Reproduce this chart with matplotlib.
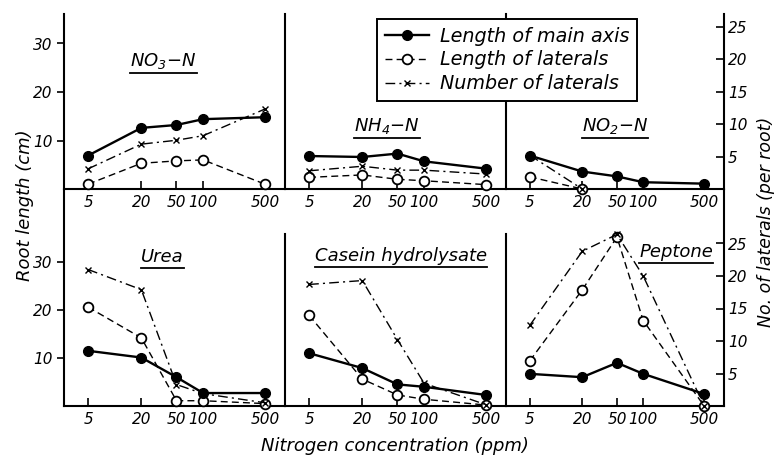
import matplotlib.pyplot as plt
import numpy as np
from matplotlib.ticker import NullLocator, FixedLocator
from matplotlib.lines import Line2D

plt.rcParams['font.family'] = ['DejaVu Sans']
plt.rcParams['font.style'] = 'italic'
plt.rcParams['mathtext.default'] = 'it'

# nitrogen concentration (ppm)
conc = [5, 20, 50, 100, 500]
conc_labels = ['5', '20', '50', '100', '500']

# length of main axis (cm), length of laterals (cm), number of laterals (per root)
no3_main = [6.9, 12.6, 13.2, 14.4, 14.8]
no3_len = [1.0, 5.3, 5.8, 6.0, 1.0]
no3_num = [3.1, 6.9, 7.5, 8.2, 12.3]

nh4_main = [6.8, 6.6, 7.3, 5.7, 4.2]
nh4_len = [2.4, 2.9, 2.0, 1.7, 0.9]
nh4_num = [2.8, 3.5, 2.9, 2.9, 2.3]

no2_main = [6.9, 3.6, 2.6, 1.4, 1.1]
no2_len = [2.5, 0.0, np.nan, np.nan, np.nan]
no2_num = [5.2, 0.0, np.nan, np.nan, np.nan]

urea_main = [11.5, 10.1, 6.0, 2.7, 2.7]
urea_len = [20.6, 14.2, 1.1, 1.1, 0.5]
urea_num = [21.0, 17.9, 3.3, 1.9, 0.5]

casein_main = [11.0, 7.9, 4.5, 4.0, 2.3]
casein_len = [18.9, 5.6, 2.3, 1.4, 0.2]
casein_num = [18.7, 19.3, 10.2, 3.5, 0.2]

peptone_main = [6.7, 6.0, 9.0, 6.7, 2.5]
peptone_len = [9.4, 24.2, 35.2, 17.8, 0.0]
peptone_num = [12.4, 23.8, 26.4, 20.0, 0.0]

titles = ['NO$_3$\u2212N', 'NH$_4$\u2212N', 'NO$_2$\u2212N',
          'Urea', 'Casein hydrolysate', 'Peptone']
mains = [no3_main, nh4_main, no2_main, urea_main, casein_main, peptone_main]
lens = [no3_len, nh4_len, no2_len, urea_len, casein_len, peptone_len]
nums = [no3_num, nh4_num, no2_num, urea_num, casein_num, peptone_num]

W, H = 779, 461
fig = plt.figure(figsize=(W / 100, H / 100), dpi=100)

col_x = [64, 285, 506]
col_w = [221, 221, 218]
# row: (bottom pixel, height pixel)
rows = [(189, 175), (406, 216)]
cm_px = [4.85, 4.8]
lat_px = 6.5

title_pos = [(0.45, 0.73), (0.46, 0.36), (0.50, 0.36),
             (0.445, 0.69), (0.525, 0.695), (0.78, 0.715)]

title_texts = []
handles = None
for i in range(6):
    r, c = divmod(i, 3)
    bot, hgt = rows[r]
    ax = fig.add_axes([col_x[c] / W, 1 - bot / H, col_w[c] / W, hgt / H])
    axn = ax.twinx()
    ax.patch.set_visible(False)
    axn.patch.set_visible(False)
    ax.set_xscale('log')
    ax.set_xlim(2.67, 844)
    ax.set_ylim(0, hgt / cm_px[r])
    axn.set_ylim(0, hgt / lat_px)

    l1, = ax.plot(conc, mains[i], '-', color='black', lw=1.7, marker='o',
                  ms=7, mfc='black', clip_on=False, zorder=4)
    l2, = ax.plot(conc, lens[i], '--', color='black', lw=1.0, marker='o',
                  ms=7, mfc='white', mew=1.3, dashes=(5, 3), clip_on=False, zorder=3)
    l3, = axn.plot(conc, nums[i], '-.', color='black', lw=1.0, marker='x',
                   ms=4.5, mew=1.0, dashes=(7, 3, 1.5, 3), clip_on=False)
    if handles is None:
        handles = [l1, l2, l3]

    for a in (ax, axn):
        a.spines['top'].set_visible(False)
        a.spines['right'].set_visible(False)
        a.xaxis.set_minor_locator(NullLocator())
    axn.spines['left'].set_visible(False)
    axn.spines['bottom'].set_visible(False)
    ax.spines['left'].set_linewidth(1.5)
    ax.spines['bottom'].set_linewidth(1.5)
    if r == 1 and c > 0:
        ax.spines['left'].set_bounds(0, (406 - 234) / cm_px[r])

    ax.xaxis.set_major_locator(FixedLocator(conc))
    ax.set_xticklabels(conc_labels)
    ax.tick_params(axis='x', direction='in', length=6, width=1.2,
                   labelsize=11, pad=4)

    if c == 0:
        ax.set_yticks([10, 20, 30])
        ax.set_yticklabels(['10', '20', '30'])
        ax.tick_params(axis='y', direction='out', length=5, width=1.2,
                       labelsize=11, pad=3)
    else:
        ax.set_yticks([])
    axn.yaxis.set_minor_locator(NullLocator())
    if c == 2:
        axn.spines['right'].set_visible(True)
        axn.spines['right'].set_linewidth(1.5)
        axn.set_yticks([5, 10, 15, 20, 25])
        axn.set_yticklabels(['5', '10', '15', '20', '25'])
        axn.tick_params(axis='y', direction='in', length=6, width=1.2,
                        labelsize=11, pad=3)
    else:
        axn.set_yticks([])

    tx, ty = title_pos[i]
    t = ax.text(tx, ty, titles[i], transform=ax.transAxes, ha='center',
                va='center', fontsize=13, zorder=6)
    title_texts.append(t)

leg = fig.legend(handles, ['Length of main axis', 'Length of laterals',
                           'Number of laterals'],
                 loc='upper left', bbox_to_anchor=(377 / W, 1 - 19 / H),
                 frameon=True, fancybox=False, edgecolor='black', framealpha=1,
                 fontsize=13.8, handlelength=2.3, labelspacing=0.25,
                 borderpad=0.4, handletextpad=0.6, borderaxespad=0)
leg.get_frame().set_linewidth(1.4)

fig.text(25 / W, 1 - 205 / H, 'Root length (cm)', rotation=90,
         ha='center', va='center', fontsize=13)
fig.text(766 / W, 1 - 222 / H, 'No. of laterals (per root)', rotation=90,
         ha='center', va='center', fontsize=12.5)
fig.text(395 / W, 1 - 446 / H, 'Nitrogen concentration (ppm)',
         ha='center', va='center', fontsize=13)

# underline the panel titles
fig.canvas.draw()
inv = fig.transFigure.inverted()
for t in title_texts:
    bb = t.get_window_extent()
    (x0, y0), (x1, y1) = inv.transform([[bb.x0, bb.y0], [bb.x1, bb.y1]])
    fig.add_artist(Line2D([x0, x1], [y0 - 2 / H, y0 - 2 / H], color='black',
                          lw=1.3, transform=fig.transFigure))

fig.savefig('out.png', dpi=100)
